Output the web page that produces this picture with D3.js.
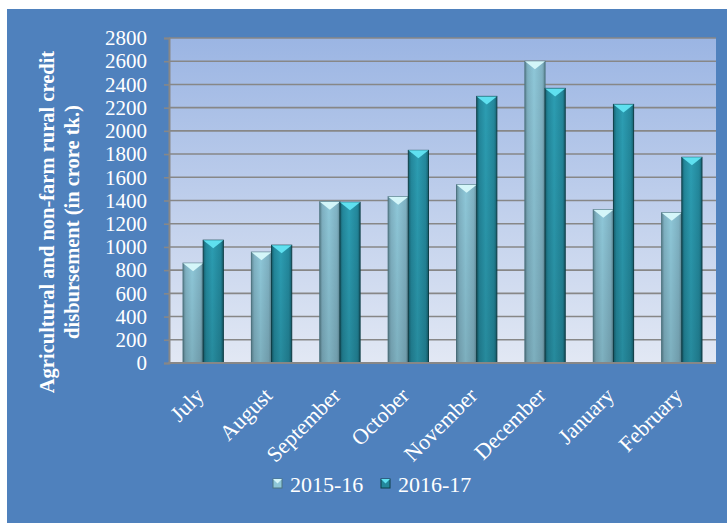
<!DOCTYPE html>
<html>
<head>
<meta charset="utf-8">
<script src="https://cdn.jsdelivr.net/npm/d3@7"></script>
<style>
  body { margin: 0; background: #fff; }
  text { font-family: "Liberation Serif", "Times New Roman", serif; fill: #fff; }
</style>
</head>
<body>
<script>
// months on the x axis
var months = ["July", "August", "September", "October", "November", "December", "January", "February"];
// credit disbursement, crore tk
var fy1516 = [860, 955, 1390, 1433, 1536, 2599, 1321, 1295];
var fy1617 = [1058, 1015, 1385, 1832, 2297, 2366, 2228, 1772];
var seriesNames = ["2015-16", "2016-17"];
var yTicks = [0, 200, 400, 600, 800, 1000, 1200, 1400, 1600, 1800, 2000, 2200, 2400, 2600, 2800];

var w = 727, h = 523;
var svg = d3.select("body").append("svg")
    .attr("width", w)
    .attr("height", h);

var defs = svg.append("defs");

// plot background gradient
var bg = defs.append("linearGradient").attr("id", "plotBg")
    .attr("x1", 0).attr("y1", 0).attr("x2", 0).attr("y2", 1);
bg.append("stop").attr("offset", "0%").attr("stop-color", "#9bb5e3");
bg.append("stop").attr("offset", "100%").attr("stop-color", "#e2e8f4");

// bar body gradients (horizontal bevel look)
function barGrad(id, edge, mid, hi) {
    var g = defs.append("linearGradient").attr("id", id)
        .attr("x1", 0).attr("y1", 0).attr("x2", 1).attr("y2", 0);
    g.append("stop").attr("offset", "0%").attr("stop-color", edge);
    g.append("stop").attr("offset", "14%").attr("stop-color", mid);
    g.append("stop").attr("offset", "45%").attr("stop-color", hi);
    g.append("stop").attr("offset", "86%").attr("stop-color", mid);
    g.append("stop").attr("offset", "100%").attr("stop-color", edge);
}
barGrad("barA", "#5f8794", "#7fb1c2", "#8ec7d8");
barGrad("barB", "#17606f", "#23879b", "#2c9db2");

// vertical shading: bars get a little darker towards the bottom
var shade = defs.append("linearGradient").attr("id", "shade")
    .attr("x1", 0).attr("y1", 0).attr("x2", 0).attr("y2", 1);
shade.append("stop").attr("offset", "0%").attr("stop-color", "#000").attr("stop-opacity", 0);
shade.append("stop").attr("offset", "100%").attr("stop-color", "#000").attr("stop-opacity", 0.12);

// blue frame
svg.append("rect")
    .attr("x", 7).attr("y", 9)
    .attr("width", w - 7).attr("height", h - 9)
    .attr("fill", "#4f81bd");

var margin = {left: 169, right: 716, top: 38, bottom: 363};

var x = d3.scaleBand()
    .domain(months)
    .range([margin.left, margin.right])
    .paddingInner(0.41)
    .paddingOuter(0.205);

var xs = d3.scaleBand()
    .domain(seriesNames)
    .range([0, x.bandwidth()]);

var y = d3.scaleLinear()
    .domain([0, 2800])
    .range([margin.bottom, margin.top]);

// plot area
svg.append("rect")
    .attr("x", margin.left).attr("y", margin.top)
    .attr("width", margin.right - margin.left)
    .attr("height", margin.bottom - margin.top)
    .attr("fill", "url(#plotBg)");

// gridlines
svg.append("g").selectAll("line")
    .data(yTicks.slice(1))
    .enter().append("line")
    .attr("x1", margin.left).attr("x2", margin.right)
    .attr("y1", function (d) { return y(d); })
    .attr("y2", function (d) { return y(d); })
    .attr("stroke", "#878787")
    .attr("stroke-width", 1.6);

// y axis
var yAxis = d3.axisLeft(y).tickValues(yTicks).tickSize(5).tickPadding(17)
    .tickFormat(d3.format("d"));
var yG = svg.append("g")
    .attr("transform", "translate(" + margin.left + ",0)")
    .call(yAxis);
yG.select(".domain").attr("stroke", "#878787").attr("stroke-width", 2);
yG.selectAll(".tick line").attr("stroke", "#878787").attr("stroke-width", 1.6);
yG.selectAll(".tick text")
    .attr("font-family", "Liberation Serif, serif")
    .attr("font-size", 21)
    .attr("fill", "#fff");

// bars
var data = [];
months.forEach(function (m, i) {
    data.push({month: m, series: seriesNames[0], value: fy1516[i]});
    data.push({month: m, series: seriesNames[1], value: fy1617[i]});
});

var bars = svg.append("g").selectAll("g")
    .data(data)
    .enter().append("g")
    .attr("transform", function (d) {
        return "translate(" + (x(d.month) + xs(d.series)) + ",0)";
    });

bars.append("rect")
    .attr("x", 0)
    .attr("y", function (d) { return y(d.value); })
    .attr("width", xs.bandwidth())
    .attr("height", function (d) { return y(0) - y(d.value); })
    .attr("fill", function (d) { return d.series === seriesNames[0] ? "url(#barA)" : "url(#barB)"; })
    .attr("stroke", function (d) { return d.series === seriesNames[0] ? "#4d7480" : "#0f3f48"; })
    .attr("stroke-width", 1);

bars.append("rect")
    .attr("x", 0)
    .attr("y", function (d) { return y(d.value); })
    .attr("width", xs.bandwidth())
    .attr("height", function (d) { return y(0) - y(d.value); })
    .attr("fill", "url(#shade)");

// bevelled top
bars.append("path")
    .attr("d", function (d) {
        var bw = xs.bandwidth(), t = y(d.value);
        return "M0," + t + "L" + bw + "," + t + "L" + (bw / 2) + "," + (t + 8) + "Z";
    })
    .attr("fill", function (d) { return d.series === seriesNames[0] ? "#d4f6f9" : "#5fe0f0"; });

// x axis line
svg.append("line")
    .attr("x1", margin.left - 1).attr("x2", margin.right)
    .attr("y1", margin.bottom).attr("y2", margin.bottom)
    .attr("stroke", "#878787")
    .attr("stroke-width", 2);

// month labels
svg.append("g").selectAll("text")
    .data(months)
    .enter().append("text")
    .attr("transform", function (d) {
        return "translate(" + (x(d) + x.bandwidth() / 2 + 2) + "," + (margin.bottom + 34) + ") rotate(-45)";
    })
    .attr("text-anchor", "end")
    .attr("font-size", 22)
    .text(function (d) { return d; });

// y title
var title = svg.append("text")
    .attr("transform", "translate(0,222) rotate(-90)")
    .attr("text-anchor", "middle")
    .attr("font-size", 20.5)
    .attr("font-weight", "bold");
title.append("tspan").attr("x", 0).attr("y", 54).text("Agricultural and non-farm rural credit");
title.append("tspan").attr("x", 0).attr("y", 79).text("disbursement (in crore tk.)");

// legend
var legend = svg.append("g").selectAll("g")
    .data(seriesNames)
    .enter().append("g")
    .attr("transform", function (d, i) { return "translate(" + (273 + i * 108) + ",479)"; });

legend.append("rect")
    .attr("width", 9).attr("height", 9)
    .attr("fill", function (d, i) { return i === 0 ? "#8ec7d8" : "#23879b"; })
    .attr("stroke", function (d, i) { return i === 0 ? "#4d7480" : "#0f3f48"; });
legend.append("path")
    .attr("d", "M0,0L9,0L4.5,4.5Z")
    .attr("fill", function (d, i) { return i === 0 ? "#d4f6f9" : "#5fe0f0"; });
legend.append("text")
    .attr("x", 17).attr("y", 13)
    .attr("font-size", 22)
    .text(function (d) { return d; });
</script>
</body>
</html>
